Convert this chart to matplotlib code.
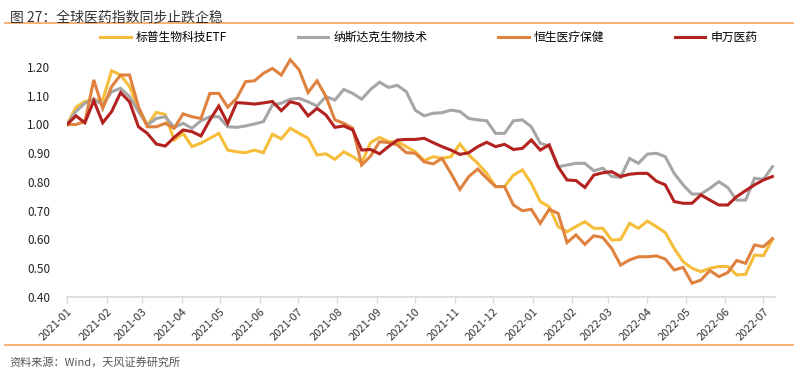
import numpy as np
import pandas as pd
import matplotlib
matplotlib.use("Agg")
import matplotlib.pyplot as plt
import matplotlib.dates as mdates

plt.rcParams['font.family'] = ['Noto Sans CJK SC', 'DejaVu Sans']

# Weekly index values (base = 1.00 at 2021-01-01)
dates = pd.date_range('2021-01-01', periods=80, freq='7D')

sp_biotech = [1.00, 1.06, 1.08, 1.085, 1.085, 1.187, 1.172, 1.132, 1.056, 0.998,
              1.042, 1.035, 0.946, 0.969, 0.923, 0.935, 0.952, 0.969, 0.911, 0.905,
              0.902, 0.911, 0.902, 0.966, 0.950, 0.987, 0.969, 0.952, 0.894, 0.898,
              0.879, 0.905, 0.888, 0.867, 0.937, 0.955, 0.940, 0.940, 0.923, 0.905,
              0.875, 0.888, 0.882, 0.888, 0.932, 0.894, 0.865, 0.830, 0.784, 0.784,
              0.824, 0.842, 0.795, 0.732, 0.714, 0.645, 0.627, 0.645, 0.662, 0.639,
              0.639, 0.598, 0.600, 0.656, 0.639, 0.664, 0.645, 0.624, 0.569, 0.523,
              0.500, 0.488, 0.500, 0.506, 0.506, 0.477, 0.479, 0.546, 0.544, 0.600]

nasdaq_biotech = [1.00, 1.045, 1.074, 1.088, 1.068, 1.114, 1.126, 1.097, 1.045, 0.998,
                  1.021, 1.027, 0.990, 1.004, 0.987, 1.013, 1.027, 1.027, 0.992, 0.990,
                  0.995, 1.002, 1.010, 1.068, 1.074, 1.088, 1.091, 1.079, 1.064, 1.097,
                  1.085, 1.122, 1.108, 1.088, 1.122, 1.147, 1.129, 1.136, 1.114, 1.050,
                  1.030, 1.039, 1.041, 1.050, 1.045, 1.021, 1.016, 1.013, 0.969, 0.969,
                  1.013, 1.016, 0.992, 0.935, 0.925, 0.853, 0.859, 0.865, 0.865, 0.839,
                  0.848, 0.819, 0.816, 0.882, 0.865, 0.897, 0.900, 0.888, 0.830, 0.790,
                  0.758, 0.758, 0.778, 0.801, 0.781, 0.737, 0.737, 0.813, 0.809, 0.853]

hs_healthcare = [1.00, 1.00, 1.010, 1.155, 1.056, 1.132, 1.172, 1.172, 1.062, 0.992,
                 0.992, 1.004, 0.987, 1.037, 1.027, 1.021, 1.108, 1.108, 1.060, 1.091,
                 1.149, 1.152, 1.178, 1.195, 1.172, 1.225, 1.190, 1.111, 1.152, 1.097,
                 1.016, 1.004, 0.987, 0.859, 0.890, 0.940, 0.937, 0.929, 0.902, 0.900,
                 0.870, 0.863, 0.882, 0.830, 0.774, 0.819, 0.845, 0.813, 0.784, 0.784,
                 0.720, 0.700, 0.705, 0.656, 0.705, 0.691, 0.589, 0.616, 0.583, 0.613,
                 0.607, 0.569, 0.511, 0.529, 0.540, 0.540, 0.543, 0.532, 0.494, 0.503,
                 0.448, 0.459, 0.492, 0.471, 0.485, 0.527, 0.517, 0.581, 0.575, 0.603]

sw_pharma = [1.00, 1.030, 1.006, 1.083, 1.006, 1.045, 1.111, 1.079, 0.992, 0.969,
             0.932, 0.925, 0.955, 0.981, 0.975, 0.960, 1.016, 1.064, 1.004, 1.076,
             1.074, 1.071, 1.075, 1.080, 1.048, 1.079, 1.071, 1.030, 1.056, 1.033,
             0.990, 0.995, 0.981, 0.911, 0.913, 0.898, 0.923, 0.946, 0.948, 0.948,
             0.952, 0.937, 0.923, 0.911, 0.896, 0.902, 0.923, 0.938, 0.923, 0.931,
             0.913, 0.917, 0.946, 0.911, 0.929, 0.853, 0.807, 0.805, 0.781, 0.824,
             0.832, 0.836, 0.819, 0.827, 0.830, 0.830, 0.803, 0.790, 0.732, 0.726,
             0.726, 0.755, 0.737, 0.720, 0.720, 0.749, 0.770, 0.790, 0.807, 0.819]

series_names = ['标普生物科技ETF', '纳斯达克生物技术', '恒生医疗保健', '申万医药']
colors = ['#F6BD3A', '#A6A6A6', '#E0823F', '#B3221E']

fig = plt.figure(figsize=(7.94, 3.72), dpi=100)
ax = fig.add_axes([0.0844, 0.2016, 0.8916, 0.657])

for vals, name, c in zip([sp_biotech, nasdaq_biotech, hs_healthcare, sw_pharma], series_names, colors):
    ax.plot(dates, vals, color=c, lw=2.2, label=name, solid_joinstyle='miter')

ax.set_ylim(0.4, 1.25)
ax.set_yticks(np.arange(0.4, 1.21, 0.1))
ax.yaxis.set_major_formatter(plt.FuncFormatter(lambda v, p: f"{v:.2f}"))
ax.set_xlim(pd.Timestamp('2021-01-01'), pd.Timestamp('2022-07-10'))
ax.xaxis.set_major_locator(mdates.MonthLocator())
ax.xaxis.set_major_formatter(mdates.DateFormatter('%Y-%m'))
plt.setp(ax.get_xticklabels(), rotation=45, ha='right', rotation_mode='anchor')

for s in ['top', 'right', 'left']:
    ax.spines[s].set_visible(False)
ax.spines['bottom'].set_color('#D9D9D9')
ax.spines['bottom'].set_linewidth(1.2)
ax.tick_params(axis='y', length=0, labelsize=8.5, colors='#222222', pad=12)
ax.tick_params(axis='x', length=4, color='#D9D9D9', width=1, labelsize=8, colors='#333333', pad=3)

fig.legend(loc='center', bbox_to_anchor=(0.54, 0.9), ncol=4, frameon=False,
           fontsize=8.5, handlelength=2.6, columnspacing=6.0, handletextpad=0.4)

# title, separators and source
fig.text(0.012, 0.972, '图 27：全球医药指数同步止跌企稳', fontsize=10, color='#333333', va='top')
fig.add_artist(plt.Line2D([0.006, 1.0], [0.938, 0.938], color='#F4A460', lw=1.2))
fig.add_artist(plt.Line2D([0.006, 1.0], [0.073, 0.073], color='#F4A460', lw=1.2))
fig.text(0.012, 0.027, '资料来源：Wind，天风证券研究所', fontsize=8, color='#555555', va='center')

fig.savefig('out.png', dpi=100)
